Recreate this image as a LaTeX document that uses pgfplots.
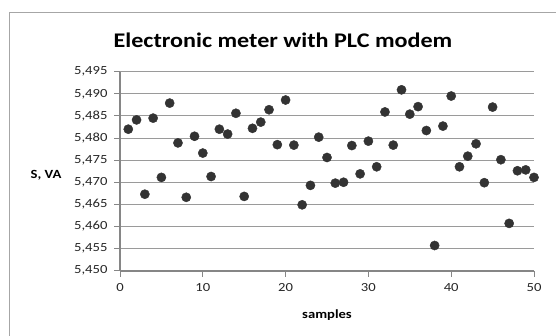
\documentclass[border=0pt]{standalone}
\usepackage{fontspec}
\setmainfont{Carlito}
\usepackage{pgfplots}
\pgfplotsset{compat=1.18}
\definecolor{gridgray}{HTML}{9A9A9A}
\definecolor{axgray}{HTML}{868686}
\definecolor{markgray}{HTML}{333333}
\definecolor{framegray}{HTML}{A6A6A6}
\begin{document}
\begin{tikzpicture}[x=1pt,y=1pt]
\useasboundingbox (0,0) rectangle (556,335);
\fill[white] (0,0) rectangle (556,335);
\begin{scope}
\clip (0,0) rectangle (556,335);
\draw[framegray, line width=1pt] (9.7,322.7) rectangle (700,-100);
\end{scope}
\node[font=\bfseries\fontsize{20.8}{24}\selectfont, xscale=1.16] at (283,295) {Electronic meter with PLC modem};
\node[font=\bfseries\fontsize{12.5}{15}\selectfont, xscale=1.17] at (46,160) {S, VA};
\node[font=\bfseries\fontsize{12.5}{15}\selectfont, xscale=1.17] at (327,20) {samples};
\begin{axis}[
  at={(120pt,64.3pt)}, anchor=south west,
  scale only axis, width=414pt, height=199pt,
  xmin=0, xmax=50, ymin=5.45, ymax=5.495,
  xtick={0,10,20,30,40,50},
  ytick={5.450,5.455,5.460,5.465,5.470,5.475,5.480,5.485,5.490,5.495},
  axis x line*=bottom, axis y line*=left,
  axis line style={axgray, line width=1.6pt, -},
  ymajorgrids, grid style={gridgray, line width=1pt},
  tick style={axgray, line width=1pt}, major tick length=6pt, tick align=outside,
  tick label style={font=\fontsize{12.4}{15}\selectfont, color=black!85, xscale=1.18},
  /pgf/number format/assume math mode=true,
  yticklabel style={xshift=-2pt, /pgf/number format/.cd, fixed, fixed zerofill, precision=3, use comma},
  xticklabel style={yshift=-3pt},
  clip=false,
]
\addplot[only marks, mark=*, mark size=4.6pt, mark options={fill=markgray, draw=markgray}] coordinates {
(1,5.4820) (2,5.4841) (3,5.4673) (4,5.4845) (5,5.4711) (6,5.4879) (7,5.4789) (8,5.4666) (9,5.4804) (10,5.4766)
(11,5.4713) (12,5.4820) (13,5.4809) (14,5.4856) (15,5.4668) (16,5.4822) (17,5.4836) (18,5.4864) (19,5.4785) (20,5.4886)
(21,5.4784) (22,5.4649) (23,5.4693) (24,5.4802) (25,5.4756) (26,5.4698) (27,5.4700) (28,5.4783) (29,5.4719) (30,5.4793)
(31,5.4735) (32,5.4859) (33,5.4784) (34,5.4909) (35,5.4854) (36,5.4871) (37,5.4817) (38,5.4557) (39,5.4827) (40,5.4895)
(41,5.4735) (42,5.4759) (43,5.4787) (44,5.4699) (45,5.4870) (46,5.4751) (47,5.4607) (48,5.4726) (49,5.4728) (50,5.4711)
};
\end{axis}
\end{tikzpicture}
\end{document}
